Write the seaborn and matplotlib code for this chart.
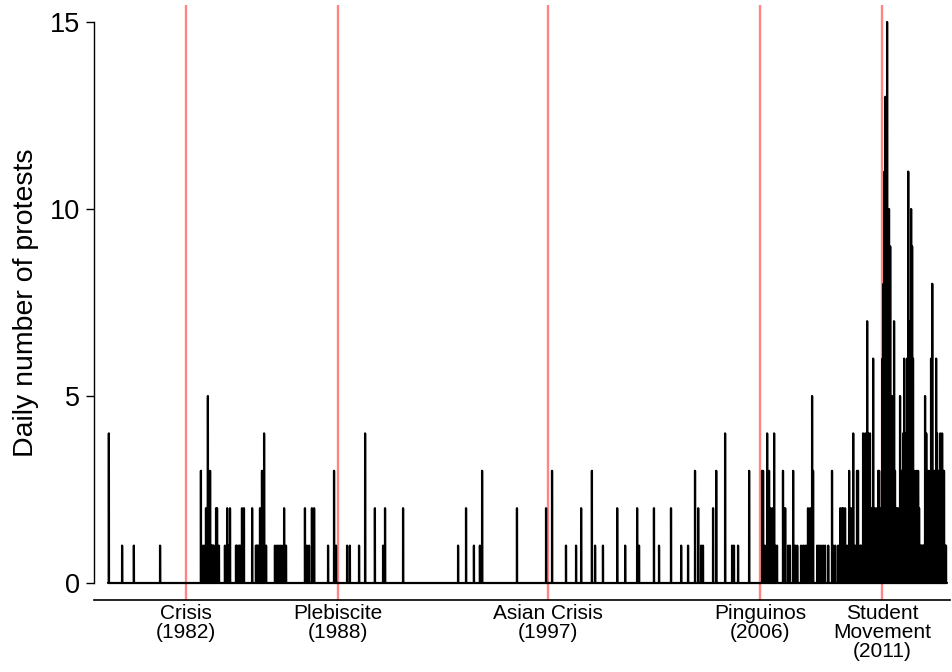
import numpy as np
import pandas as pd
import matplotlib
matplotlib.use("Agg")
import matplotlib.pyplot as plt
import seaborn as sns

# ---- data: protest days (fractional year) and number of protests ----
years_pre1982 = [1979.23, 1979.78, 1980.27, 1981.36]
counts_pre1982 = [4, 1, 1, 1]

years_1982_1988 = [1983.06, 1983.15, 1983.23, 1983.27, 1983.31, 1983.35, 1983.44, 1983.48,
                   1983.52, 1983.56, 1983.60, 1983.69, 1983.73, 1983.81, 1984.06, 1984.15,
                   1984.19, 1984.27, 1984.52, 1984.56, 1984.64, 1984.69, 1984.77, 1984.85,
                   1985.19, 1985.35, 1985.39, 1985.44, 1985.52, 1985.60, 1985.69, 1985.77,
                   1986.14, 1986.23, 1986.31, 1986.39, 1986.48, 1986.52, 1986.60, 1987.39,
                   1987.47, 1987.56, 1987.68, 1987.77, 1988.35, 1988.60, 1988.68]
counts_1982_1988 = [3, 1, 1, 2, 2, 5, 3, 1,
                    1, 1, 1, 2, 2, 1, 1, 2,
                    1, 2, 1, 1, 1, 1, 2, 2,
                    2, 1, 1, 1, 2, 3, 4, 1,
                    1, 1, 1, 1, 1, 2, 1, 2,
                    1, 1, 2, 2, 1, 3, 1]

years_1988_1997 = [1989.14, 1989.26, 1989.64, 1989.89, 1990.30, 1990.64, 1990.72, 1991.47,
                   1993.76, 1994.09, 1994.42, 1994.67, 1994.76, 1996.21, 1997.42]
counts_1988_1997 = [1, 1, 1, 4, 2, 1, 2, 2,
                    1, 2, 1, 1, 3, 2, 2]

years_1997_2006 = [1997.67, 1998.25, 1998.67, 1998.88, 1999.33, 1999.46, 1999.79, 2000.38,
                   2000.71, 2001.21, 2001.29, 2001.91, 2002.12, 2002.62, 2003.04, 2003.33,
                   2003.62, 2003.75, 2003.87, 2003.95, 2004.37, 2004.50, 2004.87, 2005.16,
                   2005.24, 2005.41, 2005.87]
counts_1997_2006 = [3, 1, 1, 2, 3, 1, 1, 2,
                    1, 2, 1, 2, 1, 2, 1, 1,
                    3, 2, 1, 1, 2, 3, 4, 1,
                    1, 1, 3]

years_2006_2011 = [2006.41, 2006.45, 2006.53, 2006.62, 2006.70, 2006.74, 2006.83, 2006.91,
                   2006.95, 2007.03, 2007.28, 2007.32, 2007.37, 2007.49, 2007.57, 2007.70,
                   2007.78, 2007.87, 2008.03, 2008.12, 2008.20, 2008.28, 2008.32, 2008.41,
                   2008.49, 2008.53, 2008.70, 2008.78, 2008.86, 2008.95, 2009.03, 2009.16,
                   2009.32, 2009.36, 2009.45, 2009.57, 2009.66, 2009.74, 2009.78, 2009.86,
                   2009.95, 2010.03, 2010.11, 2010.20, 2010.28, 2010.36, 2010.40, 2010.49,
                   2010.53, 2010.61, 2010.65, 2010.70, 2010.74, 2010.78, 2010.82, 2010.86,
                   2010.90, 2010.95, 2010.99, 2011.03, 2011.07, 2011.15, 2011.19, 2011.24,
                   2011.28, 2011.32, 2011.36]
counts_2006_2011 = [3, 3, 1, 4, 3, 2, 2, 4,
                    1, 1, 3, 2, 2, 1, 1, 3,
                    1, 1, 1, 1, 1, 1, 2, 2,
                    5, 3, 1, 1, 1, 1, 1, 1,
                    3, 1, 1, 1, 2, 2, 2, 2,
                    1, 3, 2, 4, 1, 3, 3, 1,
                    1, 4, 2, 4, 2, 7, 4, 1,
                    4, 2, 1, 6, 2, 2, 1, 3,
                    3, 1, 2]

years_post2011 = [2011.42, 2011.46, 2011.50, 2011.54, 2011.58, 2011.61, 2011.65, 2011.69,
                  2011.74, 2011.78, 2011.82, 2011.86, 2011.90, 2011.94, 2011.99, 2012.03,
                  2012.07, 2012.11, 2012.15, 2012.19, 2012.24, 2012.28, 2012.32, 2012.36,
                  2012.40, 2012.44, 2012.49, 2012.53, 2012.57, 2012.61, 2012.65, 2012.69,
                  2012.73, 2012.78, 2012.82, 2012.86, 2012.90, 2012.94, 2012.98, 2013.03,
                  2013.07, 2013.11, 2013.15, 2013.19, 2013.24, 2013.28, 2013.32, 2013.36,
                  2013.40, 2013.44, 2013.49, 2013.53, 2013.57, 2013.61, 2013.65, 2013.69,
                  2013.74, 2013.78, 2013.82, 2013.86, 2013.90, 2013.94, 2013.98, 2014.02,
                  2014.06]
counts_post2011 = [6, 8, 11, 13, 9, 15, 9, 10,
                   9, 5, 2, 5, 7, 3, 2, 2,
                   1, 2, 5, 3, 3, 4, 6, 4,
                   3, 6, 11, 7, 3, 10, 9, 6,
                   3, 2, 3, 2, 3, 2, 1, 1,
                   1, 1, 1, 5, 4, 2, 3, 2,
                   3, 6, 8, 2, 3, 2, 6, 4,
                   3, 2, 4, 2, 4, 3, 3, 1,
                   1]

event_years = [1982.44, 1988.76, 1997.50, 2006.33, 2011.40]
event_labels = ["Crisis\n(1982)", "Plebiscite\n(1988)", "Asian Crisis\n(1997)",
                "Pinguinos\n(2006)", "Student\nMovement\n(2011)"]

series_start, series_end = 1979.20, 2014.10
y_ticks = [0, 5, 10, 15]

# ---- build the daily series from the event lists ----
all_years = (years_pre1982 + years_1982_1988 + years_1988_1997 +
             years_1997_2006 + years_2006_2011 + years_post2011)
all_counts = (counts_pre1982 + counts_1982_1988 + counts_1988_1997 +
              counts_1997_2006 + counts_2006_2011 + counts_post2011)

n_days = int(round((series_end - series_start) * 365.25)) + 1
day_x = series_start + np.arange(n_days) / 365.25
day_y = np.zeros(n_days)
for yr, c in zip(all_years, all_counts):
    idx = int(round((yr - series_start) * 365.25))
    day_y[idx] = max(day_y[idx], c)
df = pd.DataFrame({"year": day_x, "protests": day_y})

# ---- plot ----
sns.set_theme(style="white")
plt.rcParams["font.family"] = ["Liberation Sans", "DejaVu Sans"]
plt.rcParams["text.color"] = "black"
plt.rcParams["axes.labelcolor"] = "black"
plt.rcParams["xtick.color"] = "black"
plt.rcParams["ytick.color"] = "black"

fig = plt.figure(figsize=(9.53, 6.72), dpi=100)
ax = fig.add_axes([0.0986, 0.1071, 0.8983, 0.8855])

for ev in event_years:
    ax.axvline(ev, color="#ff8484", lw=1.7, zorder=1)

sns.lineplot(data=df, x="year", y="protests", color="black", lw=1.6,
             estimator=None, errorbar=None, sort=False, ax=ax, zorder=2)

ax.set_xlim(1978.61, 2014.23)
ax.set_ylim(-0.455, 15.455)

ax.set_yticks(y_ticks)
ax.set_yticklabels([str(t) for t in y_ticks], fontsize=19.5, color="black")
ax.tick_params(axis="y", length=6, width=1, pad=4, color="black", left=True)
ax.set_xticks(event_years)
ax.set_xticklabels(event_labels, fontsize=15, linespacing=1.0, color="black")
ax.tick_params(axis="x", length=0, pad=3)

ax.set_xlabel("")
ax.set_ylabel("Daily number of protests", fontsize=20.5, labelpad=8, color="black")

for s in ["top", "right"]:
    ax.spines[s].set_visible(False)
ax.spines["left"].set_bounds(0, 15)
ax.spines["left"].set_linewidth(1.0)
ax.spines["left"].set_color("black")
ax.spines["bottom"].set_linewidth(1.2)
ax.spines["bottom"].set_color("black")
ax.grid(False)

fig.savefig("out.png", dpi=100)
